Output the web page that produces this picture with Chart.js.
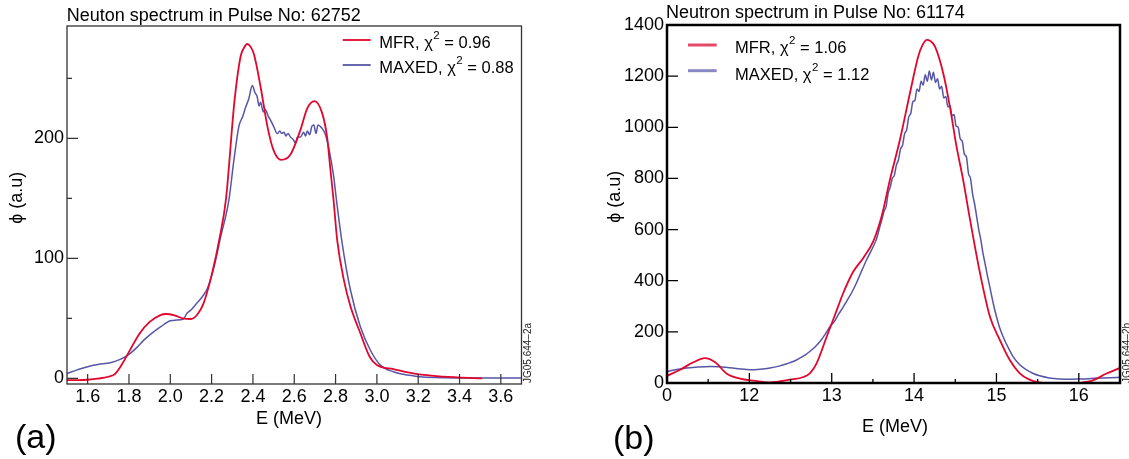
<!DOCTYPE html>
<html>
<head>
<meta charset="utf-8">
<script src="https://cdn.jsdelivr.net/npm/chart.js@4.4.1/dist/chart.umd.min.js"></script>
<style>
html,body{margin:0;padding:0;background:#fff;}
#wrap{position:relative;width:1129px;height:459px;overflow:hidden;background:#fff;}
canvas{position:absolute;top:0;}
#ca{left:0;}
#cb{left:565px;}
</style>
</head>
<body>
<div id="wrap">
<canvas id="ca" width="565" height="459"></canvas>
<canvas id="cb" width="564" height="459"></canvas>
</div>
<script>
// ================= DATA =================
const seriesNames = ["MFR", "MAXED"];

// ---- Panel (a): Pulse 62752 ----
const titleA = "Neuton spectrum in Pulse No: 62752";
const chiA = ["0.96", "0.88"];
const mfrA_E = [1.50,1.55,1.60,1.65,1.70,1.73,1.76,1.80,1.85,1.90,1.95,1.98,2.02,2.06,2.10,2.13,2.16,2.20,2.24,2.27,2.31,2.34,2.355,2.373,2.39,2.405,2.437,2.47,2.50,2.537,2.58,2.63,2.663,2.698,2.735,2.759,2.775,2.79,2.808,2.84,2.872,2.92,2.965,3.00,3.08,3.19,3.32,3.51];
const mfrA_phi = [-1.5,-1.5,-1.2,-0.3,1.3,3.3,10,22,37,47,52.5,53.6,52.5,50,49.4,53,62,86,118,150,230,268,275,278.6,276,270,243,210,190,182,186,207,225,231,221,201,174,149,115,82,60,37.5,18,11,7.7,3.6,1.4,0];
const maxedA_E = [1.50,1.55,1.60,1.65,1.71,1.76,1.80,1.84,1.873,1.91,1.954,2.00,2.03,2.063,2.08,2.10,2.128,2.155,2.18,2.212,2.244,2.284,2.308,2.332,2.35,2.365,2.38,2.397,2.41,2.42,2.43,2.437,2.45,2.46,2.475,2.486,2.50,2.518,2.53,2.54,2.55,2.56,2.57,2.582,2.595,2.606,2.615,2.63,2.645,2.655,2.663,2.675,2.685,2.695,2.705,2.715,2.727,2.74,2.751,2.762,2.772,2.782,2.791,2.804,2.832,2.872,2.92,2.968,3.017,3.08,3.178,3.32,3.50,3.70];
const maxedA_phi = [4,7,9.7,11.5,13,16,20,26,32,37.5,43,48,48.5,49.4,54,57,62.5,68,75,93,118,149,182,210,218,226,233,244,238,235,227,230,222,224,218,215,210,204,206,204,205,202,204,201,199,196,201,201,205,202,206,203,210,211,204,211,209.7,207,203,196,187.5,178,168,149,112.5,73.6,43,23.6,11,5.5,2,0.5,0.3,0.3];
const xTicksA = [1.6,1.8,2.0,2.2,2.4,2.6,2.8,3.0,3.2,3.4,3.6];
const xTickLabelsA = ["1.6","1.8","2.0","2.2","2.4","2.6","2.8","3.0","3.2","3.4","3.6"];
const yTicksA = [0,100,200];
const yTickLabelsA = ["0","100","200"];
const yMinorTicksA = [50,150,250];

// ---- Panel (b): Pulse 61174 ----
const titleB = "Neutron spectrum in Pulse No: 61174";
const chiB = ["1.06", "1.12"];
const mfrB_E = [11.00,11.16,11.32,11.46,11.585,11.727,11.888,12.05,12.25,12.495,12.656,12.737,12.818,12.94,13.04,13.14,13.262,13.383,13.504,13.606,13.707,13.828,13.95,14.05,14.10,14.152,14.20,14.253,14.353,14.434,14.515,14.595,14.676,14.80,14.92,15.04,15.16,15.28,15.40,15.52,15.65,15.76,15.90,16.00,16.17,16.33,16.50];
const mfrB_phi = [28,52,81,97,81,36,17,9,2.5,13,23.5,39,78,182,267,352,436,489,554,652,795,951,1134,1277,1320,1342,1337,1316,1212,1082,925,795,645,430,260,169,91,39,13,2,-2,-3,-2,0,10,36,59];
const maxedB_E = [11.00,11.12,11.24,11.38,11.525,11.63,11.73,11.87,12.01,12.13,12.25,12.36,12.455,12.54,12.616,12.68,12.737,12.80,12.86,12.92,12.98,13.03,13.08,13.13,13.18,13.24,13.30,13.36,13.424,13.46,13.504,13.54,13.585,
  13.61,13.635,13.66,13.685,13.71,13.735,13.76,13.785,13.81,13.835,13.86,13.885,13.91,13.935,13.96,13.985,14.01,14.035,14.06,14.085,14.11,14.135,14.16,14.185,14.21,14.235,14.26,14.285,14.31,14.335,14.36,14.385,14.41,14.435,14.46,14.485,14.51,14.535,14.56,14.585,14.61,14.635,14.66,14.685,14.71,14.735,14.76,14.785,14.81,14.835,14.86,14.89,14.92,14.96,15.00,15.04,15.08,15.14,15.20,15.28,15.36,15.44,15.525,15.64,15.767,15.88,16.00,16.12,16.25,16.38,16.50];
const maxedB_phi = [45,53,58.6,63,65,64,61,56,52,54,58.6,66,75,85,98,110,124,142,163,190,221,240,267,292,319,352,391,436,482,505,534,560,612,
  640,672,690,742,765,800,812,852,872,915,930,975,990,1040,1055,1100,1105,1150,1140,1180,1165,1205,1180,1220,1185,1215,1175,1190,1150,1160,1115,1120,1080,1085,1045,1050,1005,1000,955,945,895,885,820,800,740,700,650,600,560,510,470,420,375,313,260,215,182,140,104,72,52,38,28,20,16,15,15.6,17,19.5,21,22];
const xTicksB = [11,12,13,14,15,16];
const xTickLabelsB = ["0","12","13","14","15","16"];
const xMinorTicksB = [11.5,12.5,13.5,14.5,15.5];
const yTicksB = [0,200,400,600,800,1000,1200,1400];
const yTickLabelsB = ["0","200","400","600","800","1000","1200","1400"];

// ================= RENDERING =================
const FAM = '"Liberation Sans", Arial, Helvetica, sans-serif';

function pts(E, v) { return E.map((e, i) => ({ x: e, y: v[i] })); }

function makeDeco(P) {
  return {
    id: 'deco_' + P.id,
    afterDraw(chart) {
      const ctx = chart.ctx, ca = chart.chartArea;
      const xs = chart.scales.x, ys = chart.scales.y;
      const ox = P.offsetX;
      ctx.save();
      // ticks (inside)
      ctx.strokeStyle = P.tickColor; ctx.lineWidth = P.tickWidth;
      ctx.beginPath();
      P.yTicks.forEach(v => { const y = ys.getPixelForValue(v); ctx.moveTo(ca.left, y); ctx.lineTo(ca.left + P.yMajorLen, y); });
      (P.yMinor || []).forEach(v => { const y = ys.getPixelForValue(v); ctx.moveTo(ca.left, y); ctx.lineTo(ca.left + P.yMinorLen, y); });
      P.xTicks.forEach(v => { const x = xs.getPixelForValue(v); ctx.moveTo(x, ca.bottom); ctx.lineTo(x, ca.bottom - P.xMajorLen); });
      (P.xMinor || []).forEach(v => { const x = xs.getPixelForValue(v); ctx.moveTo(x, ca.bottom); ctx.lineTo(x, ca.bottom - P.xMinorLen); });
      ctx.stroke();
      // frame
      ctx.strokeStyle = P.frameColor; ctx.lineWidth = P.frameWidth;
      ctx.strokeRect(ca.left, ca.top, ca.right - ca.left, ca.bottom - ca.top);

      ctx.fillStyle = '#000';
      // title
      ctx.font = P.titleSize + 'px ' + FAM;
      ctx.textAlign = 'left'; ctx.textBaseline = 'alphabetic';
      ctx.fillText(P.title, P.titleX - ox, P.titleY);
      // legend
      chart.data.datasets.forEach((ds, i) => {
        const ly = P.legLineY[i];
        ctx.strokeStyle = P.legColors[i]; ctx.lineWidth = P.legLineW;
        ctx.beginPath(); ctx.moveTo(P.legX0 - ox, ly); ctx.lineTo(P.legX1 - ox, ly); ctx.stroke();
        let x = P.legTextX - ox; const by = P.legBase[i];
        ctx.fillStyle = '#000';
        ctx.font = P.legSize + 'px ' + FAM;
        const s1 = ds.label + ', \u03C7';
        ctx.fillText(s1, x, by); x += ctx.measureText(s1).width + 0.5;
        ctx.font = P.supSize + 'px ' + FAM;
        ctx.fillText('2', x, by - P.supRise); x += ctx.measureText('2').width;
        ctx.font = P.legSize + 'px ' + FAM;
        ctx.fillText(' = ' + P.chi[i], x, by);
      });
      // x axis title
      ctx.font = '18px ' + FAM; ctx.textAlign = 'center';
      ctx.fillText('E (MeV)', P.xTitleX - ox, P.xTitleY);
      // y axis title (rotated)
      ctx.save();
      ctx.translate(P.yTitleX - ox, P.yTitleY); ctx.rotate(-Math.PI / 2);
      ctx.textBaseline = 'middle'; ctx.textAlign = 'center';
      ctx.fillText('\u03D5 (a.u)', 0, 0);
      ctx.restore();
      // panel letter
      ctx.font = P.letterSize + 'px ' + FAM; ctx.textAlign = 'left'; ctx.textBaseline = 'alphabetic';
      ctx.fillText(P.letter, P.letterX - ox, P.letterY);
      // figure id (rotated)
      ctx.save();
      ctx.translate(P.idX - ox, P.idY); ctx.rotate(-Math.PI / 2);
      ctx.font = '10px ' + FAM; ctx.fillStyle = '#222';
      ctx.textBaseline = 'middle'; ctx.textAlign = 'center';
      ctx.fillText(P.figId, 0, 0);
      ctx.restore();
      ctx.restore();
    }
  };
}

function makeChart(canvasId, P) {
  return new Chart(document.getElementById(canvasId), {
    type: 'scatter',
    data: {
      datasets: [
        { label: seriesNames[0], data: pts(P.mfrE, P.mfrV), borderColor: P.red, borderWidth: P.redW,
          showLine: true, pointRadius: 0, cubicInterpolationMode: 'monotone', fill: false, order: 0 },
        { label: seriesNames[1], data: pts(P.maxE, P.maxV), borderColor: P.blue, borderWidth: P.blueW,
          showLine: true, pointRadius: 0, cubicInterpolationMode: 'monotone', fill: false, order: 1 }
      ]
    },
    options: {
      responsive: false, animation: false, devicePixelRatio: 1,
      layout: { padding: { left: 0, top: P.padTop, right: P.padRight, bottom: 0 } },
      plugins: { legend: { display: false }, tooltip: { enabled: false }, title: { display: false } },
      scales: {
        x: {
          type: 'linear', min: P.xmin, max: P.xmax,
          grid: { display: false, drawTicks: false }, border: { display: false },
          afterBuildTicks: s => { s.ticks = P.xTicks.map(v => ({ value: v })); },
          afterFit: s => { s.height = P.xH; },
          ticks: { font: { family: FAM, size: 18 }, color: '#000', padding: P.xPad, maxRotation: 0, autoSkip: false,
                   callback: (v, i) => P.xLabels[i] }
        },
        y: {
          type: 'linear', min: P.ymin, max: P.ymax,
          grid: { display: false, drawTicks: false }, border: { display: false },
          afterBuildTicks: s => { s.ticks = P.yTicks.map(v => ({ value: v })); },
          afterFit: s => { s.width = P.yW; },
          ticks: { font: { family: FAM, size: 18 }, color: '#000', padding: P.yPad, autoSkip: false,
                   callback: (v, i) => P.yLabels[i] }
        }
      }
    },
    plugins: [makeDeco(P)]
  });
}

makeChart('ca', {
  id: 'a', offsetX: 0,
  mfrE: mfrA_E, mfrV: mfrA_phi, maxE: maxedA_E, maxV: maxedA_phi,
  red: '#e2062c', blue: '#5656a8', redW: 1.8, blueW: 1.5,
  xmin: 1.5, xmax: 3.7, ymin: -4.75, ymax: 293.6,
  xTicks: xTicksA, xLabels: xTickLabelsA, yTicks: yTicksA, yLabels: yTickLabelsA, yMinor: yMinorTicksA, xMinor: [],
  padTop: 26, padRight: 43.5, yW: 67, xH: 75, xPad: 2, yPad: 3,
  tickColor: '#333', tickWidth: 1.2, yMajorLen: 11, yMinorLen: 5, xMajorLen: 10, xMinorLen: 5,
  frameColor: '#333', frameWidth: 1.3,
  title: titleA, titleX: 66.7, titleY: 20.7, titleSize: 18,
  legColors: ['#e2062c', '#5656a8'], legLineW: 1.8, legX0: 342.7, legX1: 370.7, legLineY: [40, 65],
  legTextX: 379.3, legBase: [48.3, 73.3], legSize: 16.5, supSize: 11.5, supRise: 9.5, chi: chiA,
  xTitleX: 289, xTitleY: 424, yTitleX: 17.3, yTitleY: 197.7,
  letter: '(a)', letterSize: 34, letterX: 15, letterY: 448,
  figId: 'JG05.644\u20132a', idX: 528.3, idY: 353
});

makeChart('cb', {
  id: 'b', offsetX: 565,
  mfrE: mfrB_E, mfrV: mfrB_phi, maxE: maxedB_E, maxV: maxedB_phi,
  red: '#e2062c', blue: '#5656a8', redW: 1.8, blueW: 1.5,
  xmin: 11, xmax: 16.5, ymin: 0, ymax: 1400,
  xTicks: xTicksB, xLabels: xTickLabelsB, yTicks: yTicksB, yLabels: yTickLabelsB, yMinor: [], xMinor: xMinorTicksB,
  padTop: 25, padRight: 9, yW: 102, xH: 76, xPad: 2, yPad: 3,
  tickColor: '#000', tickWidth: 1.3, yMajorLen: 11, yMinorLen: 5, xMajorLen: 10, xMinorLen: 4,
  frameColor: '#000', frameWidth: 2.5,
  title: titleB, titleX: 666, titleY: 18.3, titleSize: 18,
  legColors: ['#e24a68', '#8888c6'], legLineW: 3, legX0: 688, legX1: 716.7, legLineY: [45, 70.7],
  legTextX: 735, legBase: [53.3, 79.5], legSize: 16.5, supSize: 11.5, supRise: 9, chi: chiB,
  xTitleX: 895, xTitleY: 431.5, yTitleX: 615, yTitleY: 196.7,
  letter: '(b)', letterSize: 34, letterX: 613, letterY: 449,
  figId: 'JG05.644\u20132b', idX: 1127.5, idY: 353
});
</script>
</body>
</html>
